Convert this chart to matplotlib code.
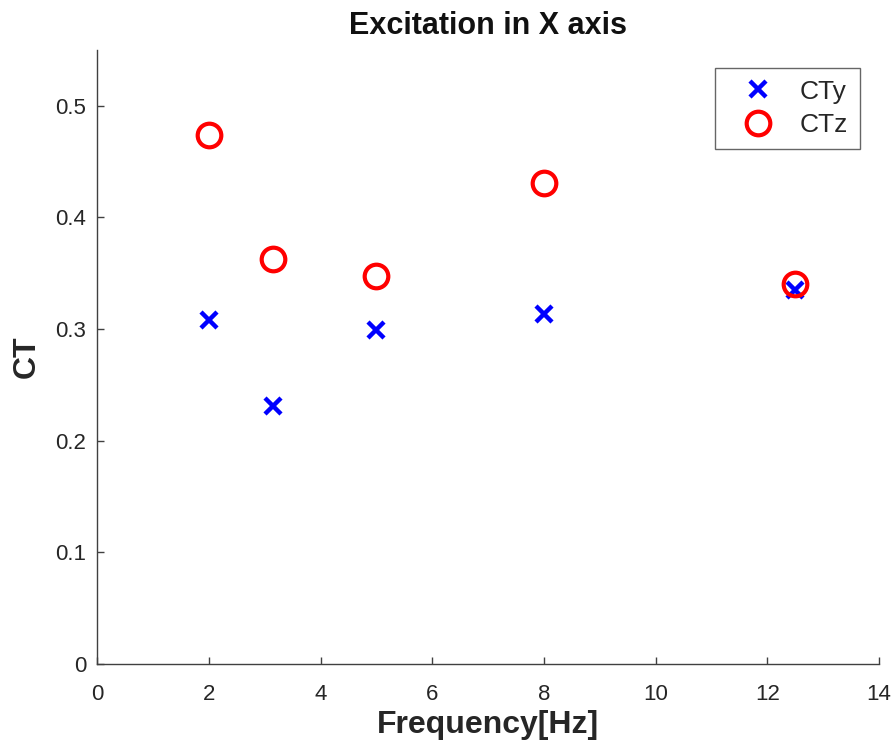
import matplotlib
matplotlib.use("Agg")
import matplotlib.pyplot as plt

plt.rcParams['font.family'] = ['Liberation Sans', 'DejaVu Sans']

freq = [2, 3.15, 5, 8, 12.5]
cty = [0.308, 0.231, 0.299, 0.313, 0.335]
ctz = [0.474, 0.363, 0.347, 0.431, 0.340]
xticks = [0, 2, 4, 6, 8, 10, 12, 14]
yticks = [0, 0.1, 0.2, 0.3, 0.4, 0.5]
yticklabels = ['0', '0.1', '0.2', '0.3', '0.4', '0.5']

fig = plt.figure(figsize=(8.96, 7.53), dpi=100)
ax = fig.add_axes([0.1086, 0.118, 0.981 - 0.1086, 0.934 - 0.118])
ax.plot(freq, cty, linestyle='none', marker='x', color='#0000ff', ms=11, mew=3.2, label='CTy')
ax.plot(freq, ctz, linestyle='none', marker='o', mfc='none', mec='#ff0000', ms=17, mew=3, label='CTz')

ax.set_xlim(0, 14)
ax.set_ylim(0, 0.55)
ax.set_xticks(xticks)
ax.set_yticks(yticks)
ax.set_yticklabels(yticklabels)
ax.spines['top'].set_visible(False)
ax.spines['right'].set_visible(False)
for s in ['left', 'bottom']:
    ax.spines[s].set_color('#404040')
    ax.spines[s].set_linewidth(1.0)
ax.tick_params(direction='in', length=5, width=1, colors='#404040', labelsize=16)
ax.tick_params(axis='x', pad=14, labelcolor='#262626')
ax.tick_params(axis='y', pad=8, labelcolor='#262626')

ax.set_title('Excitation in X axis', fontsize=22, fontweight='bold', pad=11, color='#111111')
ax.set_xlabel('Frequency[Hz]', fontsize=23, fontweight='bold', labelpad=4, color='#262626')
ax.set_ylabel('CT', fontsize=23, fontweight='bold', labelpad=10, color='#262626')

leg = ax.legend(loc='upper right', bbox_to_anchor=(0.9757, 0.9707), fontsize=19, frameon=True, fancybox=False,
                edgecolor='#404040', handlelength=2.3, handletextpad=0.45, borderpad=0.45, labelspacing=0.35,
                borderaxespad=0.0)
leg.get_frame().set_linewidth(1.0)
for t in leg.get_texts():
    t.set_color('#262626')

fig.savefig('out.png', dpi=100)
